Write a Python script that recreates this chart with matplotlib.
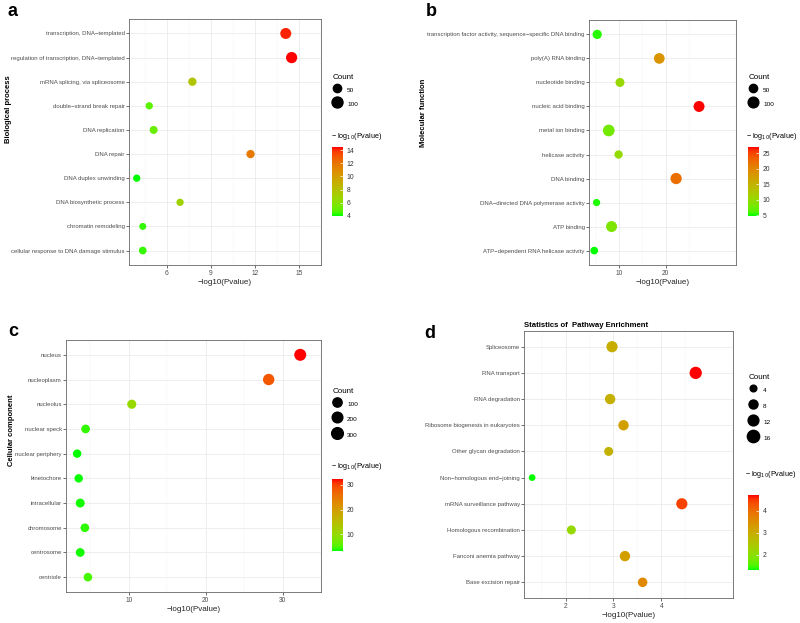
import numpy as np
import matplotlib
matplotlib.use("Agg")
import matplotlib.pyplot as plt
from matplotlib.colors import LinearSegmentedColormap, Normalize, to_rgb
from matplotlib.lines import Line2D

plt.rcParams['font.family'] = ['Liberation Sans', 'DejaVu Sans']

# ---- data ----
bp_terms = ["transcription, DNA\u2212templated",
            "regulation of transcription, DNA\u2212templated",
            "mRNA splicing, via spliceosome",
            "double\u2212strand break repair",
            "DNA replication",
            "DNA repair",
            "DNA duplex unwinding",
            "DNA biosynthetic process",
            "chromatin remodeling",
            "cellular response to DNA damage stimulus"]
bp_logp = [14.1, 14.5, 7.74, 4.8, 5.1, 11.7, 3.95, 6.9, 4.36, 4.36]
bp_count = [100, 105, 50, 36, 45, 50, 36, 36, 32, 41]

mf_terms = ["transcription factor activity, sequence\u2212specific DNA binding",
            "poly(A) RNA binding",
            "nucleotide binding",
            "nucleic acid binding",
            "metal ion binding",
            "helicase activity",
            "DNA binding",
            "DNA\u2212directed DNA polymerase activity",
            "ATP binding",
            "ATP\u2212dependent RNA helicase activity"]
mf_logp = [5.33, 18.6, 10.2, 27.1, 7.8, 9.9, 22.2, 5.2, 8.4, 4.7]
mf_count = [69, 100, 63, 107, 126, 50, 115, 34, 107, 40]

cc_terms = ["nucleus", "nucleoplasm", "nucleolus", "nuclear speck",
            "nuclear periphery", "kinetochore", "intracellular",
            "chromosome", "centrosome", "centriole"]
cc_logp = [32.3, 28.2, 10.4, 4.4, 3.3, 3.5, 3.7, 4.3, 3.7, 4.7]
cc_count = [330, 270, 90, 70, 55, 55, 80, 65, 70, 60]

kegg_terms = ["Spliceosome", "RNA transport", "RNA degradation",
              "Ribosome biogenesis in eukaryotes", "Other glycan degradation",
              "Non\u2212homologous end\u2212joining", "mRNA surveillance pathway",
              "Homologous recombination", "Fanconi anemia pathway",
              "Base excision repair"]
kegg_logp = [2.97, 4.72, 2.93, 3.21, 2.90, 1.30, 4.43, 2.12, 3.24, 3.61]
kegg_count = [13, 16, 11, 11, 8, 4, 13, 8, 11, 9]


# green -> red gradient interpolated in Lab, like ggplot's scale_colour_gradient
def srgb_to_lab(c):
    c = np.array(to_rgb(c))
    lin = np.where(c <= 0.04045, c / 12.92, ((c + 0.055) / 1.055) ** 2.4)
    m = np.array([[0.4124, 0.3576, 0.1805],
                  [0.2126, 0.7152, 0.0722],
                  [0.0193, 0.1192, 0.9505]])
    xyz = m @ lin / np.array([0.95047, 1.0, 1.08883])
    f = np.where(xyz > (6 / 29) ** 3, np.cbrt(xyz), xyz / (3 * (6 / 29) ** 2) + 4 / 29)
    return np.array([116 * f[1] - 16, 500 * (f[0] - f[1]), 200 * (f[1] - f[2])])


def lab_to_srgb(lab):
    L, a, b = lab
    fy = (L + 16) / 116
    f = np.array([fy + a / 500, fy, fy - b / 200])
    xyz = np.where(f > 6 / 29, f ** 3, 3 * (6 / 29) ** 2 * (f - 4 / 29))
    xyz = xyz * np.array([0.95047, 1.0, 1.08883])
    m = np.array([[3.2406, -1.5372, -0.4986],
                  [-0.9689, 1.8758, 0.0415],
                  [0.0557, -0.2040, 1.0570]])
    lin = np.clip(m @ xyz, 0, 1)
    c = np.where(lin <= 0.0031308, 12.92 * lin, 1.055 * lin ** (1 / 2.4) - 0.055)
    return np.clip(c, 0, 1)


lo, hi = srgb_to_lab("#00FF00"), srgb_to_lab("#FF0000")
stops = [lab_to_srgb(lo + (hi - lo) * t) for t in np.linspace(0, 1, 21)]
cmap = LinearSegmentedColormap.from_list("g2r", stops)

W, H = 800, 623
fig = plt.figure(figsize=(W / 100, H / 100), dpi=100)


def fx(px):
    return px / W


def fy(py):
    return 1 - py / H


def diam(count, p, q):
    # dot diameter in points
    return (p + q * np.sqrt(np.asarray(count, float))) * 0.72


panels = [
    dict(terms=bp_terms, x=bp_logp, n=bp_count, box=(129, 19, 321, 265),
         xticks=[6, 9, 12, 15], cb=(332, 147, 343, 216), cbt=[4, 6, 8, 10, 12, 14],
         leg=[50, 100], sp=(1.8, 0.92), legx=333, legy=74, rowh=15,
         letter=("a", 12, 12), ylab=("Biological process", 8.5, 109),
         cbtitle=(331, 136)),
    dict(terms=mf_terms, x=mf_logp, n=mf_count, box=(589, 20, 736, 265),
         xticks=[10, 20], cb=(748, 147, 759, 216), cbt=[5, 10, 15, 20, 25],
         leg=[50, 100], sp=(2.5, 0.82), legx=749, legy=74, rowh=15,
         letter=("b", 431, 11), ylab=("Molecular function", 423, 113),
         cbtitle=(746, 136)),
    dict(terms=cc_terms, x=cc_logp, n=cc_count, box=(66, 340, 321, 592),
         xticks=[10, 20, 30], cb=(332, 479, 343, 551), cbt=[10, 20, 30],
         leg=[100, 200, 300], sp=(6.0, 0.33), legx=333, legy=388, rowh=16,
         letter=("c", 13, 331), ylab=("Cellular component", 11.5, 430),
         cbtitle=(331, 467)),
    dict(terms=kegg_terms, x=kegg_logp, n=kegg_count, box=(524, 331, 733, 598),
         xticks=[2, 3, 4], cb=(748, 495, 759, 570), cbt=[2, 3, 4],
         leg=[4, 8, 12, 16], sp=(1.1, 2.8), legx=749, legy=374, rowh=16.7,
         letter=("d", 430, 333), ylab=None, cbtitle=(745, 474)),
]

for p in panels:
    l, t, r, b = p["box"]
    ax = fig.add_axes([fx(l), fy(b), fx(r) - fx(l), fy(t) - fy(b)])
    xs = np.array(p["x"])
    ys = np.arange(len(p["terms"]))[::-1]
    norm = Normalize(xs.min(), xs.max())
    ax.scatter(xs, ys, s=diam(p["n"], *p["sp"]) ** 2, c=xs, cmap=cmap, norm=norm,
               edgecolors="none", zorder=3)
    span = xs.max() - xs.min()
    ax.set_xlim(xs.min() - 0.05 * span, xs.max() + 0.05 * span)
    ax.set_ylim(-0.6, len(ys) - 0.4)
    ax.set_yticks(ys)
    ax.set_yticklabels(p["terms"])
    ax.set_xticks(p["xticks"])
    step = p["xticks"][1] - p["xticks"][0]
    ax.set_xticks(np.arange(p["xticks"][0] - step / 2, xs.max() + step, step), minor=True)
    ax.grid(True, which="major", color="#EBEBEB", lw=0.6, zorder=0)
    ax.grid(True, which="minor", axis="x", color="#F3F3F3", lw=0.35, zorder=0)
    ax.set_axisbelow(True)
    ax.tick_params(axis="y", which="major", labelsize=4.3, colors="#333333",
                   labelcolor="#4D4D4D", length=2, width=0.5, pad=1)
    ax.tick_params(axis="x", which="major", labelsize=4.8, colors="#333333",
                   labelcolor="#4D4D4D", length=2, width=0.5, pad=1.5)
    ax.tick_params(axis="x", which="minor", length=0)
    for sp in ax.spines.values():
        sp.set_color("#666666")
        sp.set_linewidth(0.6)
    ax.set_xlabel("\u2212log10(Pvalue)", fontsize=5.8, color="#222222", labelpad=1.5)

    # colour bar
    cl, ct, cr, cbm = p["cb"]
    cax = fig.add_axes([fx(cl), fy(cbm), fx(cr) - fx(cl), fy(ct) - fy(cbm)])
    sm = plt.cm.ScalarMappable(norm=norm, cmap=cmap)
    cbar = fig.colorbar(sm, cax=cax, ticks=p["cbt"])
    cbar.outline.set_visible(False)
    cax.tick_params(labelsize=4.9, labelcolor="#333333", length=2.2, width=0.5,
                    color="white", direction="in", pad=2.5)
    fig.text(fx(p["cbtitle"][0]), fy(p["cbtitle"][1]),
             "\u2212 log$_{10}$(Pvalue)", fontsize=5.2, va="center", ha="left")

    # size legend
    handles = [Line2D([], [], ls="none", marker="o", color="black",
                      markersize=diam(c, *p["sp"])) for c in p["leg"]]
    fs = 4.6
    hh = (p["rowh"] * 0.72 / fs - 0.4) * 1.3
    leg = fig.legend(handles, [str(c) for c in p["leg"]], title="Count",
                     loc="upper left", bbox_to_anchor=(fx(p["legx"]), fy(p["legy"])),
                     frameon=False, fontsize=fs, title_fontsize=5.8,
                     handlelength=1.2, handletextpad=1.0, borderpad=0, borderaxespad=0,
                     handleheight=hh, labelspacing=0.4)
    leg._legend_box.align = "left"

    let, lx, ly = p["letter"]
    fig.text(fx(lx), fy(ly), let, fontsize=13, fontweight="bold", ha="center", va="center")
    if p["ylab"]:
        txt, yx, yy = p["ylab"]
        fig.text(fx(yx), fy(yy), txt, fontsize=5.5, fontweight="bold", rotation=90,
                 ha="center", va="center")
    if let == "d":
        ax.set_title("Statistics of  Pathway Enrichment", loc="left", fontsize=5.6,
                     fontweight="bold", pad=3)

fig.savefig("out.png", dpi=100, facecolor="white")
